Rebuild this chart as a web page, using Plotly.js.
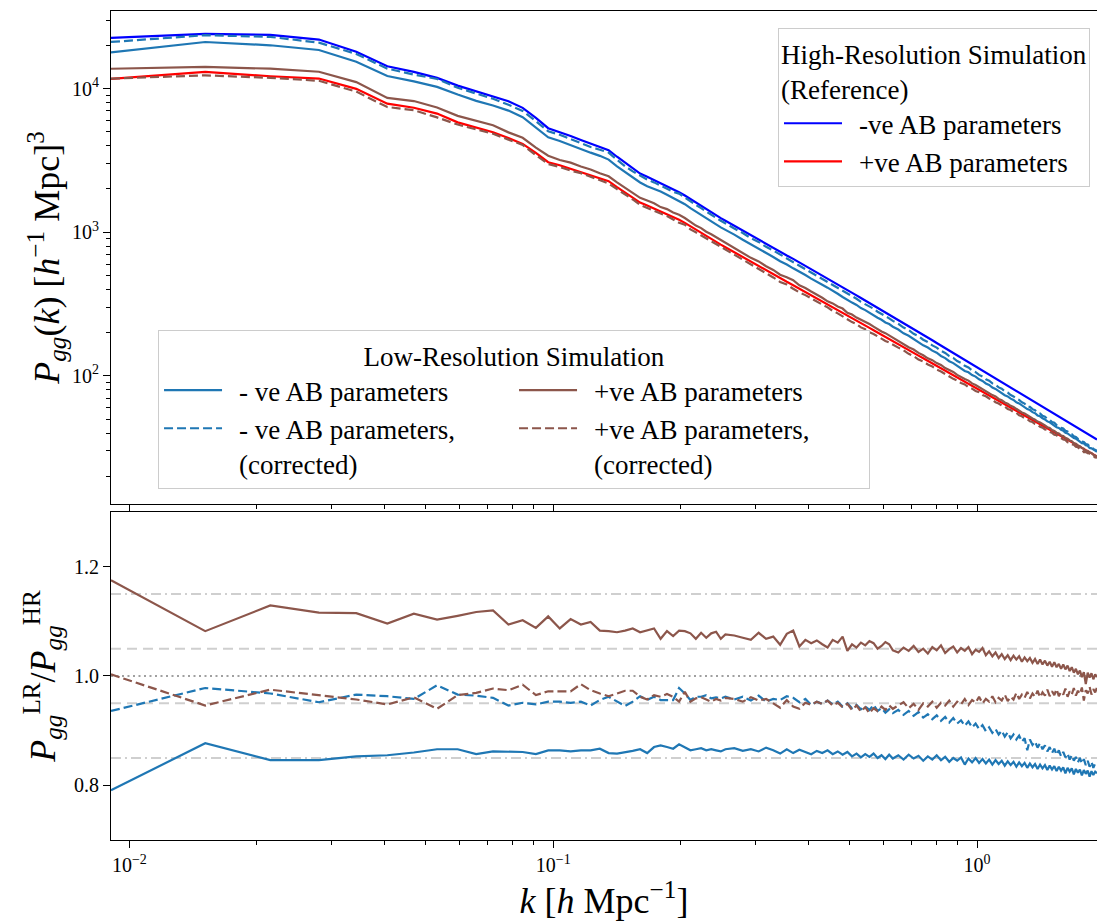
<!DOCTYPE html>
<html>
<head>
<meta charset="utf-8">
<script src="https://cdn.plot.ly/plotly-3.0.1.min.js"></script>
<style>
  html, body { margin: 0; padding: 0; background: #fff; }
  #chart { width: 1097px; height: 924px; }
</style>
</head>
<body>
<div id="chart"></div>
<script>
// Wavenumber bins, k [h/Mpc]
const kBins = [
  0.00905, 0.0151, 0.0215, 0.0280, 0.0343, 0.0406, 0.0469, 0.0532, 0.0595, 0.0658,
  0.0721, 0.0784, 0.0847, 0.0910, 0.0973, 0.1036, 0.1099, 0.1162, 0.1225, 0.1288,
  0.1351, 0.1414, 0.1477, 0.1540, 0.1603, 0.1666, 0.1729, 0.1792, 0.1855, 0.1918,
  0.1981, 0.2044, 0.2107, 0.2170, 0.2233, 0.2296, 0.2359, 0.2422, 0.2485, 0.2548,
  0.2674, 0.2800, 0.2926, 0.3052, 0.3178, 0.3304, 0.3430, 0.3556, 0.3682, 0.3808,
  0.3934, 0.4060, 0.4186, 0.4312, 0.4438, 0.4564, 0.4690, 0.4816, 0.4942, 0.5068,
  0.5194, 0.5320, 0.5446, 0.5572, 0.5698, 0.5824, 0.5950, 0.6076, 0.6202, 0.6328,
  0.6517, 0.6706, 0.6895, 0.7084, 0.7273, 0.7462, 0.7651, 0.7840, 0.8029, 0.8218,
  0.8407, 0.8596, 0.8785, 0.8974, 0.9163, 0.9352, 0.9541, 0.9730, 0.9919, 1.0108,
  1.0297, 1.0486, 1.0675, 1.0864, 1.1053, 1.1242, 1.1431, 1.1620, 1.1809, 1.1998,
  1.2187, 1.2376, 1.2565, 1.2754, 1.2943, 1.3132, 1.3321, 1.3510, 1.3699, 1.3888,
  1.4077, 1.4266, 1.4455, 1.4644, 1.4833, 1.5022, 1.5211, 1.5400, 1.5589, 1.5778,
  1.5967, 1.6156, 1.6345, 1.6534, 1.6723, 1.6912, 1.7101, 1.7290, 1.7479, 1.7668,
  1.7857, 1.8046, 1.8235, 1.8424, 1.8613, 1.8802, 1.8991, 1.9180
];

// High-resolution galaxy power spectrum, negative AB parameters
const pkHighNeg = [
  22550, 24050, 23660, 21940, 18030, 14290, 13060, 11870, 10490, 9580,
  8840, 8160, 7340, 6255, 5300, 5000, 4677, 4390, 4143, 3924,
  3728, 3353, 3050, 2784, 2562, 2433, 2311, 2203, 2099, 1997,
  1900, 1802, 1701, 1611, 1528, 1451, 1379, 1312, 1254, 1203,
  1108, 1026, 951.5, 888, 830, 778.5, 731.4, 689, 652.6, 617,
  584.4, 554.3, 527.3, 501.6, 475.9, 453.4, 432.8, 413.7, 395.6, 379.4,
  363.4, 348.5, 334.8, 322.2, 310.0, 298.8, 287.4, 277.5, 267.9, 259.0,
  245.7, 233.6, 222.3, 211.8, 202.1, 193.1, 184.7, 176.9, 169.5, 162.6,
  156.1, 150.1, 144.4, 139.0, 134.0, 129.2, 124.7, 120.4, 116.3, 112.5,
  108.8, 105.4, 102.1, 98.9, 95.9, 93.1, 90.4, 87.8, 85.3, 82.9,
  80.6, 78.4, 76.4, 74.4, 72.4, 70.6, 68.8, 67.1, 65.5, 63.9,
  62.4, 60.9, 59.5, 58.2, 56.8, 55.6, 54.4, 53.2, 52.0, 50.9,
  49.9, 48.8, 47.8, 46.9, 45.9, 45.0, 44.1, 43.3, 42.4, 41.6,
  40.9, 40.1, 39.4, 38.6, 37.9, 37.3, 36.6, 36.0
];

// High-resolution galaxy power spectrum, positive AB parameters
const pkHighPos = [
  11690, 13070, 12180, 11740, 9950, 7850, 7350, 6700, 5820, 5370,
  4960, 4530, 4120, 3565, 3070, 2926, 2763, 2619, 2488, 2375,
  2267, 2059, 1887, 1737, 1608, 1535, 1463, 1401, 1339, 1278,
  1222, 1161, 1098, 1042, 990.4, 942.4, 898.2, 855.9, 819.6, 786.0,
  724.2, 670.8, 621.9, 580.3, 542.7, 509.8, 478.7, 451.9, 427.9, 405.2,
  383.7, 364.5, 346.8, 330.4, 314.0, 299.7, 286.5, 274.4, 262.8, 252.5,
  242.1, 232.6, 223.8, 215.7, 207.9, 200.7, 193.1, 186.7, 180.5, 174.8,
  166.2, 158.5, 151.2, 144.6, 138.4, 132.6, 127.2, 122.1, 117.3, 112.9,
  108.7, 104.7, 101.0, 97.4, 94.1, 91.0, 88.0, 85.2, 82.5, 79.9,
  77.5, 75.2, 73.0, 70.9, 68.9, 66.9, 65.1, 63.3, 61.7, 60.1,
  58.5, 57.0, 55.6, 54.2, 52.9, 51.6, 50.4, 49.3, 48.1, 47.0,
  46.0, 45.0, 44.0, 43.1, 42.2, 41.3, 40.4, 39.6, 38.8, 38.0,
  37.3, 36.6, 35.9, 35.2, 34.5, 33.9, 33.3, 32.7, 32.1, 31.5,
  30.9, 30.4, 29.9, 29.4, 28.9, 28.4, 27.9, 27.5
];

// Low-resolution / high-resolution ratios
const ratioLowNeg = [
  0.791, 0.877, 0.846, 0.846, 0.853, 0.855, 0.860, 0.866, 0.866, 0.857,
  0.862, 0.861, 0.861, 0.857, 0.864, 0.864, 0.862, 0.864, 0.864, 0.867,
  0.859, 0.858, 0.860, 0.863, 0.866, 0.859, 0.870, 0.873, 0.870, 0.867,
  0.875, 0.870, 0.864, 0.866, 0.868, 0.864, 0.866, 0.864, 0.862, 0.866,
  0.868, 0.863, 0.866, 0.862, 0.869, 0.864, 0.858, 0.866, 0.859, 0.865,
  0.861, 0.857, 0.863, 0.859, 0.864, 0.857, 0.862, 0.856, 0.861, 0.853,
  0.858, 0.851, 0.857, 0.852, 0.858, 0.850, 0.855, 0.848, 0.856, 0.849,
  0.855, 0.847, 0.856, 0.849, 0.854, 0.845, 0.853, 0.847, 0.855, 0.846,
  0.852, 0.843, 0.850, 0.845, 0.851, 0.838, 0.849, 0.842, 0.850, 0.841,
  0.848, 0.840, 0.847, 0.838, 0.846, 0.839, 0.845, 0.836, 0.844, 0.837,
  0.843, 0.834, 0.842, 0.835, 0.841, 0.832, 0.840, 0.833, 0.839, 0.830,
  0.838, 0.831, 0.837, 0.828, 0.836, 0.829, 0.835, 0.826, 0.834, 0.827,
  0.833, 0.822, 0.832, 0.825, 0.831, 0.820, 0.830, 0.823, 0.829, 0.818,
  0.828, 0.821, 0.827, 0.816, 0.826, 0.819, 0.825, 0.822
];

const ratioLowNegCorr = [
  0.936, 0.978, 0.968, 0.952, 0.966, 0.963, 0.958, 0.983, 0.966, 0.964,
  0.960, 0.946, 0.951, 0.948, 0.953, 0.953, 0.951, 0.953, 0.946, 0.956,
  0.962, 0.953, 0.945, 0.953, 0.963, 0.956, 0.962, 0.956, 0.956, 0.956,
  0.978, 0.968, 0.956, 0.962, 0.962, 0.965, 0.959, 0.961, 0.959, 0.962,
  0.957, 0.962, 0.955, 0.964, 0.953, 0.958, 0.956, 0.963, 0.960, 0.952,
  0.958, 0.947, 0.953, 0.949, 0.955, 0.948, 0.953, 0.944, 0.950, 0.941,
  0.947, 0.939, 0.944, 0.938, 0.947, 0.936, 0.941, 0.933, 0.939, 0.932,
  0.938, 0.929, 0.936, 0.927, 0.934, 0.924, 0.930, 0.921, 0.928, 0.918,
  0.925, 0.915, 0.923, 0.913, 0.919, 0.909, 0.917, 0.906, 0.913, 0.903,
  0.910, 0.899, 0.906, 0.896, 0.903, 0.893, 0.900, 0.889, 0.897, 0.886,
  0.893, 0.884, 0.891, 0.880, 0.886, 0.864, 0.884, 0.874, 0.880, 0.869,
  0.877, 0.866, 0.873, 0.862, 0.870, 0.859, 0.867, 0.856, 0.864, 0.853,
  0.861, 0.851, 0.858, 0.847, 0.855, 0.845, 0.852, 0.842, 0.850, 0.840,
  0.848, 0.837, 0.845, 0.834, 0.843, 0.832, 0.840, 0.836
];

const ratioLowPos = [
  1.175, 1.082, 1.129, 1.116, 1.115, 1.096, 1.114, 1.103, 1.110, 1.117,
  1.120, 1.094, 1.102, 1.088, 1.109, 1.087, 1.104, 1.094, 1.099, 1.083,
  1.082, 1.080, 1.083, 1.087, 1.080, 1.083, 1.087, 1.068, 1.082, 1.073,
  1.083, 1.082, 1.078, 1.068, 1.079, 1.070, 1.078, 1.081, 1.068, 1.076,
  1.074, 1.070, 1.066, 1.079, 1.068, 1.072, 1.057, 1.077, 1.083, 1.054,
  1.066, 1.060, 1.065, 1.058, 1.052, 1.066, 1.061, 1.072, 1.046, 1.058,
  1.052, 1.061, 1.056, 1.064, 1.060, 1.050, 1.055, 1.062, 1.058, 1.047,
  1.043, 1.052, 1.046, 1.055, 1.044, 1.050, 1.041, 1.053, 1.047, 1.056,
  1.042, 1.049, 1.054, 1.043, 1.051, 1.046, 1.053, 1.040, 1.048, 1.044,
  1.051, 1.038, 1.045, 1.036, 1.043, 1.033, 1.040, 1.031, 1.038, 1.029,
  1.037, 1.030, 1.036, 1.026, 1.034, 1.027, 1.033, 1.024, 1.031, 1.022,
  1.030, 1.021, 1.028, 1.019, 1.026, 1.017, 1.025, 1.016, 1.022, 1.013,
  1.021, 1.012, 1.019, 1.009, 1.016, 1.006, 1.013, 1.003, 1.010, 0.998,
  1.007, 0.985, 1.006, 0.997, 1.005, 0.994, 1.003, 0.998
];

const ratioLowPosCorr = [
  1.003, 0.946, 0.975, 0.965, 0.957, 0.948, 0.961, 0.940, 0.965, 0.969,
  0.977, 0.974, 0.984, 0.965, 0.972, 0.972, 0.972, 0.985, 0.974, 0.968,
  0.963, 0.968, 0.973, 0.973, 0.962, 0.957, 0.965, 0.962, 0.967, 0.962,
  0.953, 0.971, 0.953, 0.959, 0.961, 0.957, 0.953, 0.958, 0.955, 0.960,
  0.958, 0.953, 0.961, 0.955, 0.958, 0.950, 0.942, 0.956, 0.944, 0.940,
  0.951, 0.947, 0.953, 0.949, 0.955, 0.946, 0.951, 0.943, 0.949, 0.938,
  0.946, 0.935, 0.943, 0.932, 0.941, 0.936, 0.944, 0.938, 0.946, 0.940,
  0.946, 0.952, 0.941, 0.949, 0.938, 0.950, 0.944, 0.953, 0.942, 0.951,
  0.946, 0.955, 0.944, 0.953, 0.948, 0.958, 0.947, 0.956, 0.951, 0.962,
  0.950, 0.958, 0.953, 0.963, 0.952, 0.960, 0.955, 0.966, 0.954, 0.962,
  0.957, 0.969, 0.958, 0.966, 0.960, 0.971, 0.959, 0.968, 0.962, 0.973,
  0.961, 0.970, 0.964, 0.975, 0.963, 0.972, 0.965, 0.976, 0.963, 0.971,
  0.966, 0.977, 0.962, 0.972, 0.966, 0.978, 0.964, 0.973, 0.967, 0.979,
  0.955, 0.974, 0.968, 0.980, 0.966, 0.976, 0.970, 0.979
];

// Reference levels in the ratio panel
const refLevels = [1.15, 1.05, 1.0, 0.95, 0.85];
const refDashes = ['10px,4px,2px,4px', '10px,6px', '2px,3.5px', '10px,6px', '10px,4px,2px,4px'];
const refColors = ['#cfcfcf', '#cfcfcf', '#a0a0a0', '#cfcfcf', '#cfcfcf'];

// Tick positions and labels
const xTickVals = [0.01, 0.1, 1];
const xTickText = ['10<sup>−2</sup>', '10<sup>−1</sup>', '10<sup>0</sup>'];
const xMinorVals = [0.02, 0.03, 0.04, 0.05, 0.06, 0.07, 0.08, 0.09, 0.2, 0.3, 0.4, 0.5, 0.6, 0.7, 0.8, 0.9];
const yTopTickVals = [100, 1000, 10000];
const yTopTickText = ['10<sup>2</sup>', '10<sup>3</sup>', '10<sup>4</sup>'];
const yTopMinorVals = [20, 30, 40, 50, 60, 70, 80, 90, 200, 300, 400, 500, 600, 700, 800, 900,
  2000, 3000, 4000, 5000, 6000, 7000, 8000, 9000, 20000, 30000];
const yBotTickVals = [0.8, 1.0, 1.2];
const yBotTickText = ['0.8', '1.0', '1.2'];

// Low-resolution spectra follow from the ratios to the matching high-resolution run
const pkLowNeg = pkHighNeg.map((p, i) => p * ratioLowNeg[i]);
const pkLowNegCorr = pkHighNeg.map((p, i) => p * ratioLowNegCorr[i]);
const pkLowPos = pkHighPos.map((p, i) => p * ratioLowPos[i]);
const pkLowPosCorr = pkHighPos.map((p, i) => p * ratioLowPosCorr[i]);

const FONT = "Liberation Serif";
const C_HR_NEG = '#0000ff', C_HR_POS = '#ff0000';
const C_LR_NEG = '#1f77b4', C_LR_POS = '#8c564b';
const LW = 2.2;
const DASH = '9px,4px';
const LEG_SIZE = 27;

const legendFont = { family: FONT, size: LEG_SIZE, color: '#000' };

const traces = [
  { x: kBins, y: pkHighNeg, name: '-ve AB parameters', line: { color: C_HR_NEG, width: LW },
    legend: 'legend', legendrank: 1 },
  { x: kBins, y: pkHighPos, name: '+ve AB parameters', line: { color: C_HR_POS, width: LW },
    legend: 'legend', legendrank: 2 },
  { x: kBins, y: pkLowNeg, name: '- ve AB parameters', line: { color: C_LR_NEG, width: LW },
    legend: 'legend2', legendrank: 1 },
  { x: kBins, y: pkLowNegCorr, name: '- ve AB parameters,<br>(corrected)',
    line: { color: C_LR_NEG, width: LW, dash: DASH }, legend: 'legend2', legendrank: 3 },
  { x: kBins, y: pkLowPos, name: '+ve AB parameters', line: { color: C_LR_POS, width: LW },
    legend: 'legend2', legendrank: 2 },
  { x: kBins, y: pkLowPosCorr, name: '+ve AB parameters,<br>(corrected)',
    line: { color: C_LR_POS, width: LW, dash: DASH }, legend: 'legend2', legendrank: 4 },
  { x: kBins, y: ratioLowNeg, xaxis: 'x2', yaxis: 'y2', showlegend: false,
    line: { color: C_LR_NEG, width: LW } },
  { x: kBins, y: ratioLowNegCorr, xaxis: 'x2', yaxis: 'y2', showlegend: false,
    line: { color: C_LR_NEG, width: LW, dash: DASH } },
  { x: kBins, y: ratioLowPos, xaxis: 'x2', yaxis: 'y2', showlegend: false,
    line: { color: C_LR_POS, width: LW } },
  { x: kBins, y: ratioLowPosCorr, xaxis: 'x2', yaxis: 'y2', showlegend: false,
    line: { color: C_LR_POS, width: LW, dash: DASH } }
].map(t => Object.assign({ type: 'scatter', mode: 'lines', hoverinfo: 'skip' }, t));

const tickFont = { family: FONT, size: 20, color: '#000' };
const minorTicks = { tickmode: 'array', ticks: 'outside', ticklen: 4, tickwidth: 1, tickcolor: '#000' };
const axisCommon = {
  showline: true, linecolor: '#000', linewidth: 1.1,
  ticks: 'outside', ticklen: 7, tickwidth: 1.1, tickcolor: '#000',
  showgrid: false, zeroline: false, tickfont: tickFont
};
const xRange = [Math.log10(kBins[0]), Math.log10(kBins[kBins.length - 1])];

const layout = {
  width: 1097, height: 924,
  margin: { l: 111, r: 0, t: 11, b: 84 },
  paper_bgcolor: '#fff', plot_bgcolor: '#fff',
  font: { family: FONT, size: 20, color: '#000' },
  xaxis: Object.assign({}, axisCommon, {
    type: 'log', range: xRange, anchor: 'y', mirror: true,
    tickmode: 'array', tickvals: xTickVals, showticklabels: false,
    minor: Object.assign({ tickvals: xMinorVals }, minorTicks)
  }),
  xaxis2: Object.assign({}, axisCommon, {
    type: 'log', range: xRange, anchor: 'y2', mirror: true,
    tickmode: 'array', tickvals: xTickVals, ticktext: xTickText,
    minor: Object.assign({ tickvals: xMinorVals }, minorTicks),
    title: { text: '<i>k</i> [<i>h</i> Mpc<sup>−1</sup>]', font: { family: FONT, size: 36, color: '#000' }, standoff: 6 }
  }),
  yaxis: Object.assign({}, axisCommon, {
    type: 'log', domain: [0.4053, 1], range: [1.108, 4.540], anchor: 'x',
    tickmode: 'array', tickvals: yTopTickVals, ticktext: yTopTickText,
    minor: Object.assign({ tickvals: yTopMinorVals }, minorTicks),
    title: { text: '<i>P</i><sub><i>gg</i></sub>(<i>k</i>) [<i>h</i><sup>−1</sup> Mpc]<sup>3</sup>',
      font: { family: FONT, size: 36, color: '#000' }, standoff: 1 }
  }),
  yaxis2: Object.assign({}, axisCommon, {
    domain: [0, 0.3957], range: [0.7, 1.3], anchor: 'x2',
    tickmode: 'array', tickvals: yBotTickVals, ticktext: yBotTickText,
    title: { text: '<i>P</i><sub><i>gg</i></sub><sup>LR</sup>/<i>P</i><sub><i>gg</i></sub><sup>HR</sup>',
      font: { family: FONT, size: 36, color: '#000' }, standoff: 7 }
  }),
  shapes: refLevels.map((v, i) => ({
    type: 'line', xref: 'x2 domain', x0: 0, x1: 1, yref: 'y2', y0: v, y1: v,
    layer: 'below', line: { color: refColors[i], width: 2, dash: refDashes[i] }
  })),
  legend: {
    x: 0.9929, xanchor: 'right', y: 0.9795, yanchor: 'top',
    bgcolor: 'rgba(255,255,255,0.85)', bordercolor: '#cccccc', borderwidth: 1,
    font: legendFont,
    itemwidth: 70,
    title: { text: 'High-Resolution Simulation<br>(Reference)', side: 'top', font: legendFont }
  },
  legend2: {
    orientation: 'h', x: 0.0477, xanchor: 'left', y: 0.6152, yanchor: 'top',
    bgcolor: 'rgba(255,255,255,0.85)', bordercolor: '#cccccc', borderwidth: 1,
    font: legendFont,
    itemwidth: 70, entrywidth: 270, entrywidthmode: 'pixels', valign: 'top',
    title: { text: 'Low-Resolution Simulation', side: 'top center', font: legendFont }
  },
  showlegend: true
};

Plotly.newPlot('chart', traces, layout, { displayModeBar: false, responsive: false }).then(gd => {
  // longer sample strokes in the legend keys
  gd.querySelectorAll('.legendlines path').forEach(p => p.setAttribute('d', 'M5,0h58'));
});
</script>
</body>
</html>
